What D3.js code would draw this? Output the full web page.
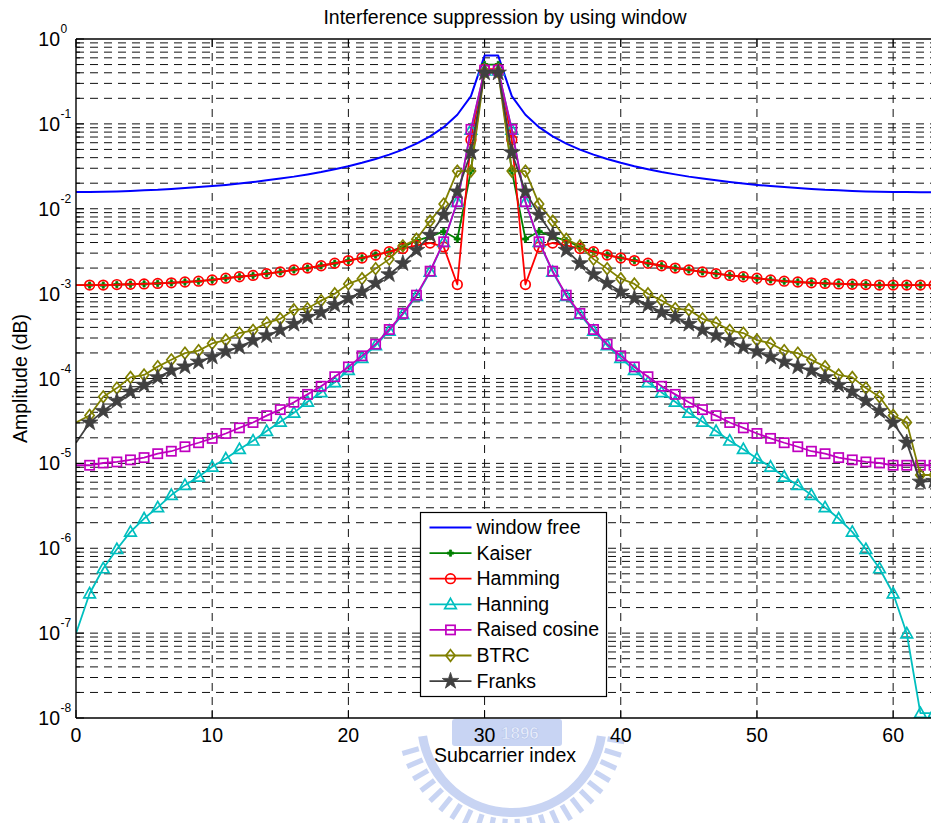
<!DOCTYPE html>
<html>
<head>
<meta charset="utf-8">
<script src="https://cdn.jsdelivr.net/npm/d3@7"></script>
<style>
  body { margin: 0; background: #fff; }
  svg text { font-family: "Liberation Sans", Arial, Helvetica, sans-serif; fill: #000; }
</style>
</head>
<body>
<svg id="chart" width="931" height="823"></svg>
<script>
// Subcarrier indices 0..63
const subcarrier = d3.range(64);

// Amplitude per subcarrier for each window
const windowFree = [
  0.0157, 0.0157, 0.0159, 0.0160, 0.0162, 0.0165, 0.0167, 0.0171, 0.0175, 0.0180,
  0.0185, 0.0191, 0.0198, 0.0206, 0.0216, 0.0227, 0.0239, 0.0254, 0.0271, 0.0292,
  0.0317, 0.0348, 0.0386, 0.0434, 0.0498, 0.0586, 0.0713, 0.0914, 0.128, 0.212,
  0.637, 0.637, 0.212, 0.128, 0.0914, 0.0713, 0.0586, 0.0498, 0.0434, 0.0386,
  0.0348, 0.0317, 0.0292, 0.0271, 0.0254, 0.0239, 0.0227, 0.0216, 0.0206, 0.0198,
  0.0191, 0.0185, 0.0180, 0.0175, 0.0171, 0.0167, 0.0165, 0.0162, 0.0160, 0.0159,
  0.0157, 0.0157, 0.0156, 0.0156
];
const kaiser = [
  1.26e-3, 1.26e-3, 1.26e-3, 1.28e-3, 1.29e-3, 1.30e-3, 1.32e-3, 1.34e-3, 1.37e-3, 1.40e-3,
  1.45e-3, 1.52e-3, 1.58e-3, 1.64e-3, 1.72e-3, 1.80e-3, 1.90e-3, 2.00e-3, 2.13e-3, 2.28e-3,
  2.45e-3, 2.63e-3, 2.85e-3, 3.12e-3, 3.55e-3, 4.20e-3, 4.70e-3, 5.40e-3, 4.40e-3, 0.028,
  0.50, 0.50, 0.028, 4.40e-3, 5.40e-3, 4.70e-3, 4.20e-3, 3.55e-3, 3.12e-3, 2.85e-3,
  2.63e-3, 2.45e-3, 2.28e-3, 2.13e-3, 2.00e-3, 1.90e-3, 1.80e-3, 1.72e-3, 1.64e-3, 1.58e-3,
  1.52e-3, 1.45e-3, 1.40e-3, 1.37e-3, 1.34e-3, 1.32e-3, 1.30e-3, 1.29e-3, 1.28e-3, 1.26e-3,
  1.26e-3, 1.26e-3, 1.26e-3, 1.26e-3
];
const hamming = [
  1.26e-3, 1.26e-3, 1.26e-3, 1.28e-3, 1.29e-3, 1.30e-3, 1.32e-3, 1.34e-3, 1.37e-3, 1.40e-3,
  1.45e-3, 1.52e-3, 1.58e-3, 1.64e-3, 1.72e-3, 1.80e-3, 1.90e-3, 2.00e-3, 2.13e-3, 2.28e-3,
  2.45e-3, 2.63e-3, 2.85e-3, 3.12e-3, 3.40e-3, 3.70e-3, 3.95e-3, 3.55e-3, 1.28e-3, 0.065,
  0.44, 0.44, 0.065, 1.28e-3, 3.55e-3, 3.95e-3, 3.70e-3, 3.40e-3, 3.12e-3, 2.85e-3,
  2.63e-3, 2.45e-3, 2.28e-3, 2.13e-3, 2.00e-3, 1.90e-3, 1.80e-3, 1.72e-3, 1.64e-3, 1.58e-3,
  1.52e-3, 1.45e-3, 1.40e-3, 1.37e-3, 1.34e-3, 1.32e-3, 1.30e-3, 1.29e-3, 1.28e-3, 1.26e-3,
  1.26e-3, 1.26e-3, 1.26e-3, 1.26e-3
];
const hanning = [
  9.9e-8, 2.93e-7, 5.78e-7, 9.75e-7, 1.56e-6, 2.24e-6, 3.03e-6, 4.23e-6, 5.54e-6, 6.95e-6,
  9.1e-6, 1.14e-5, 1.47e-5, 1.85e-5, 2.40e-5, 3.09e-5, 3.94e-5, 5.32e-5, 6.86e-5, 9.0e-5,
  1.26e-4, 1.74e-4, 2.45e-4, 3.65e-4, 5.69e-4, 9.35e-4, 1.80e-3, 4.05e-3, 0.0120, 0.0850,
  0.424, 0.424, 0.0850, 0.0120, 4.05e-3, 1.80e-3, 9.35e-4, 5.69e-4, 3.65e-4, 2.45e-4,
  1.74e-4, 1.26e-4, 9.0e-5, 6.86e-5, 5.32e-5, 3.94e-5, 3.09e-5, 2.40e-5, 1.85e-5, 1.47e-5,
  1.14e-5, 9.1e-6, 6.95e-6, 5.54e-6, 4.23e-6, 3.03e-6, 2.24e-6, 1.56e-6, 9.75e-7, 5.78e-7,
  2.93e-7, 9.9e-8, 1.14e-8, 1.14e-8
];
const raisedCosine = [
  9.5e-6, 9.5e-6, 1.01e-5, 1.04e-5, 1.10e-5, 1.17e-5, 1.30e-5, 1.39e-5, 1.57e-5, 1.75e-5,
  1.97e-5, 2.25e-5, 2.62e-5, 3.03e-5, 3.65e-5, 4.30e-5, 5.25e-5, 6.50e-5, 8.10e-5, 1.05e-4,
  1.37e-4, 1.85e-4, 2.54e-4, 3.78e-4, 5.85e-4, 9.60e-4, 1.84e-3, 4.08e-3, 0.0121, 0.0862,
  0.43, 0.43, 0.0862, 0.0121, 4.08e-3, 1.84e-3, 9.60e-4, 5.85e-4, 3.78e-4, 2.54e-4,
  1.85e-4, 1.37e-4, 1.05e-4, 8.10e-5, 6.50e-5, 5.25e-5, 4.30e-5, 3.65e-5, 3.03e-5, 2.62e-5,
  2.25e-5, 1.97e-5, 1.75e-5, 1.57e-5, 1.39e-5, 1.30e-5, 1.17e-5, 1.10e-5, 1.04e-5, 1.01e-5,
  9.5e-6, 9.5e-6, 9.5e-6, 9.5e-6
];
const btrc = [
  3.04e-5, 3.67e-5, 6.08e-5, 7.71e-5, 1.03e-4, 1.10e-4, 1.38e-4, 1.66e-4, 1.99e-4, 2.13e-4,
  2.59e-4, 2.84e-4, 3.43e-4, 3.69e-4, 4.53e-4, 5.05e-4, 6.45e-4, 6.67e-4, 8.28e-4, 9.96e-4,
  1.30e-3, 1.50e-3, 1.97e-3, 2.55e-3, 3.66e-3, 4.37e-3, 7.16e-3, 0.01136, 0.0278, 0.0278,
  0.41, 0.41, 0.0278, 0.0278, 0.01136, 7.16e-3, 4.37e-3, 3.66e-3, 2.55e-3, 1.97e-3,
  1.50e-3, 1.30e-3, 9.96e-4, 8.28e-4, 6.67e-4, 6.45e-4, 5.05e-4, 4.53e-4, 3.69e-4, 3.43e-4,
  2.84e-4, 2.59e-4, 2.13e-4, 1.99e-4, 1.66e-4, 1.38e-4, 1.10e-4, 1.03e-4, 7.71e-5, 6.08e-5,
  3.67e-5, 3.04e-5, 7.3e-6, 7.3e-6
];
const franks = [
  1.75e-5, 3.02e-5, 4.13e-5, 5.42e-5, 6.97e-5, 8.36e-5, 1.03e-4, 1.24e-4, 1.38e-4, 1.57e-4,
  1.80e-4, 2.08e-4, 2.36e-4, 2.80e-4, 3.21e-4, 3.72e-4, 4.38e-4, 5.30e-4, 6.00e-4, 7.33e-4,
  8.80e-4, 1.05e-3, 1.33e-3, 1.68e-3, 2.27e-3, 3.26e-3, 4.90e-3, 8.43e-3, 0.0159, 0.0460,
  0.40, 0.40, 0.0460, 0.0159, 8.43e-3, 4.90e-3, 3.26e-3, 2.27e-3, 1.68e-3, 1.33e-3,
  1.05e-3, 8.80e-4, 7.33e-4, 6.00e-4, 5.30e-4, 4.38e-4, 3.72e-4, 3.21e-4, 2.80e-4, 2.36e-4,
  2.08e-4, 1.80e-4, 1.57e-4, 1.38e-4, 1.24e-4, 1.03e-4, 8.36e-5, 6.97e-5, 5.42e-5, 4.13e-5,
  3.02e-5, 1.75e-5, 6.06e-6, 6.2e-6
];

const seriesNames = ["window free", "Kaiser", "Hamming", "Hanning", "Raised cosine", "BTRC", "Franks"];
const xTickValues = [0, 10, 20, 30, 40, 50, 60];
const yTickExponents = [0, -1, -2, -3, -4, -5, -6, -7, -8];

const series = [
  { name: seriesNames[0], values: windowFree,   color: "#0000ff", marker: null,       width: 2.0 },
  { name: seriesNames[1], values: kaiser,       color: "#008000", marker: "dot",      width: 1.8 },
  { name: seriesNames[2], values: hamming,      color: "#ff0000", marker: "circle",   width: 1.8 },
  { name: seriesNames[3], values: hanning,      color: "#00bfbf", marker: "triangle", width: 1.8 },
  { name: seriesNames[4], values: raisedCosine, color: "#bf00bf", marker: "square",   width: 1.8 },
  { name: seriesNames[5], values: btrc,         color: "#808000", marker: "diamond",  width: 1.8 },
  { name: seriesNames[6], values: franks,       color: "#404040", marker: "star",     width: 1.8 }
];

const svg = d3.select("#chart");
const plot = { left: 76, right: 934, top: 39, bottom: 718 };

const x = d3.scaleLinear().domain([0, 63]).range([plot.left, plot.right]);
const y = d3.scaleLog().domain([1e-8, 1]).range([plot.bottom, plot.top]);

// --- faint emblem beneath the x axis ------------------------------------
svg.append("clipPath").attr("id", "belowAxis")
  .append("rect").attr("x", 0).attr("y", plot.bottom + 1).attr("width", 931).attr("height", 823 - plot.bottom);
const emblem = svg.append("g").attr("clip-path", "url(#belowAxis)")
  .attr("fill", "#bfcdf1").attr("opacity", 0.85);
const ec = { x: 512, y: 722 };
emblem.append("path")
  .attr("transform", `translate(${ec.x},${ec.y})`)
  .attr("d", d3.arc().innerRadius(86).outerRadius(95).startAngle(Math.PI * 0.55).endAngle(Math.PI * 1.45)());
d3.range(100, 261, 7).forEach(a => {
  emblem.append("rect")
    .attr("x", -2.6).attr("y", 97).attr("width", 5.2).attr("height", 17)
    .attr("transform", `translate(${ec.x},${ec.y}) rotate(${a - 180})`);
});
emblem.append("rect").attr("x", 452).attr("y", 719).attr("width", 110).attr("height", 27).attr("rx", 3);
emblem.append("text").attr("x", 501).attr("y", 739).attr("text-anchor", "start")
  .attr("font-size", 17).attr("font-weight", "bold")
  .style("fill", "#e6ecfb").attr("stroke", "#aebfea").attr("stroke-width", 0.7)
  .text("1896");

// --- grid -------------------------------------------------------------
const gridVals = [];
for (let e = -8; e < 0; e++) for (let m = 1; m < 10; m++) gridVals.push(m * Math.pow(10, e));
gridVals.push(1);

const grid = svg.append("g").attr("class", "grid")
  .attr("stroke", "#111").attr("stroke-width", 1).attr("stroke-dasharray", "8,6").attr("fill", "none");
grid.selectAll("line.h").data(gridVals.filter(v => v > 1e-8 && v < 1)).join("line")
  .attr("class", "h")
  .attr("x1", plot.left).attr("x2", plot.right)
  .attr("y1", d => y(d)).attr("y2", d => y(d));
grid.selectAll("line.v").data(xTickValues.filter(v => v > 0)).join("line")
  .attr("class", "v")
  .attr("x1", d => x(d)).attr("x2", d => x(d))
  .attr("y1", plot.top).attr("y2", plot.bottom);

// --- series -----------------------------------------------------------
svg.append("clipPath").attr("id", "plotClip")
  .append("rect").attr("x", plot.left).attr("y", plot.top)
  .attr("width", plot.right - plot.left).attr("height", plot.bottom - plot.top);

const line = d3.line().x((d, i) => x(subcarrier[i])).y(d => y(d));

function drawMarker(g, type, color) {
  if (type === "circle") {
    g.append("circle").attr("r", 4.8).attr("fill", "none").attr("stroke", color).attr("stroke-width", 1.7);
  } else if (type === "triangle") {
    g.append("path").attr("d", "M0,-6L5.8,4.3L-5.8,4.3Z").attr("fill", "none").attr("stroke", color).attr("stroke-width", 1.7);
  } else if (type === "square") {
    g.append("rect").attr("x", -4.6).attr("y", -4.6).attr("width", 9.2).attr("height", 9.2)
      .attr("fill", "none").attr("stroke", color).attr("stroke-width", 1.7);
  } else if (type === "diamond") {
    g.append("path").attr("d", "M0,-5.8L4.6,0L0,5.8L-4.6,0Z").attr("fill", "none").attr("stroke", color).attr("stroke-width", 1.7);
  } else if (type === "star") {
    g.append("path").attr("d", d3.symbol(d3.symbolStar, 85)()).attr("fill", color).attr("stroke", color).attr("stroke-width", 0.8);
  } else if (type === "dot") {
    g.append("path").attr("d", d3.symbol(d3.symbolCross, 22)()).attr("fill", color).attr("stroke", color).attr("stroke-width", 0.8);
  }
}

const seriesG = svg.append("g").attr("clip-path", "url(#plotClip)");
series.forEach(s => {
  const g = seriesG.append("g");
  g.append("path").datum(s.values).attr("d", line)
    .attr("fill", "none").attr("stroke", s.color).attr("stroke-width", s.width)
    .attr("stroke-linejoin", "round");
  if (s.marker) {
    s.values.forEach((v, i) => {
      if (subcarrier[i] === 0) return; // marker centred on the axis edge is not drawn
      const mg = g.append("g").attr("transform", `translate(${x(subcarrier[i])},${y(v)})`);
      drawMarker(mg, s.marker, s.color);
    });
  }
});

// --- axes frame -------------------------------------------------------
const frame = svg.append("g").attr("stroke", "#000").attr("stroke-width", 1.4).attr("fill", "none");
frame.append("line").attr("x1", plot.left).attr("x2", plot.left).attr("y1", plot.top).attr("y2", plot.bottom);
frame.append("line").attr("x1", plot.left).attr("x2", plot.right).attr("y1", plot.bottom).attr("y2", plot.bottom);
frame.append("line").attr("x1", plot.left).attr("x2", plot.right).attr("y1", plot.top).attr("y2", plot.top);
frame.append("line").attr("x1", plot.right).attr("x2", plot.right).attr("y1", plot.top).attr("y2", plot.bottom);

// inward ticks
const ticks = svg.append("g").attr("stroke", "#000").attr("stroke-width", 1);
xTickValues.forEach(v => {
  ticks.append("line").attr("x1", x(v)).attr("x2", x(v)).attr("y1", plot.bottom).attr("y2", plot.bottom - 8);
  ticks.append("line").attr("x1", x(v)).attr("x2", x(v)).attr("y1", plot.top).attr("y2", plot.top + 8);
});
gridVals.forEach(v => {
  const major = Math.abs(Math.log10(v) - Math.round(Math.log10(v))) < 1e-9;
  ticks.append("line").attr("x1", plot.left).attr("x2", plot.left + (major ? 8 : 4))
    .attr("y1", y(v)).attr("y2", y(v));
});

// tick labels
const fontSize = 19.5;
svg.append("g").selectAll("text").data(xTickValues).join("text")
  .attr("x", d => x(d)).attr("y", plot.bottom + 24)
  .attr("text-anchor", "middle").attr("font-size", fontSize)
  .text(d => d);

const yl = svg.append("g");
yTickExponents.forEach(e => {
  const yy = y(Math.pow(10, e));
  yl.append("text").attr("x", 60).attr("y", yy + 7).attr("text-anchor", "end")
    .attr("font-size", fontSize).text("10");
  yl.append("text").attr("x", 60.5).attr("y", yy - 6).attr("text-anchor", "start")
    .attr("font-size", 12).text(e);
});

// title and axis labels
svg.append("text").attr("x", (plot.left + plot.right) / 2).attr("y", 24)
  .attr("text-anchor", "middle").attr("font-size", fontSize)
  .text("Interference suppression by using window");
svg.append("text").attr("x", (plot.left + plot.right) / 2).attr("y", 762)
  .attr("text-anchor", "middle").attr("font-size", fontSize)
  .text("Subcarrier index");
svg.append("text").attr("transform", `translate(27,${(plot.top + plot.bottom) / 2}) rotate(-90)`)
  .attr("text-anchor", "middle").attr("font-size", fontSize)
  .text("Amplitude (dB)");

// --- legend -----------------------------------------------------------
const legend = svg.append("g").attr("transform", "translate(420.5,512.5)");
legend.append("rect").attr("width", 186).attr("height", 184)
  .attr("fill", "#fff").attr("stroke", "#000").attr("stroke-width", 1.2);
series.forEach((s, i) => {
  const cy = 15 + i * 25.6;
  const row = legend.append("g").attr("transform", `translate(0,${cy})`);
  row.append("line").attr("x1", 9).attr("x2", 51).attr("y1", 0).attr("y2", 0)
    .attr("stroke", s.color).attr("stroke-width", s.width);
  if (s.marker) drawMarker(row.append("g").attr("transform", "translate(30,0)"), s.marker, s.color);
  row.append("text").attr("x", 56).attr("y", 6.5).attr("font-size", fontSize).text(s.name);
});
</script>
</body>
</html>
